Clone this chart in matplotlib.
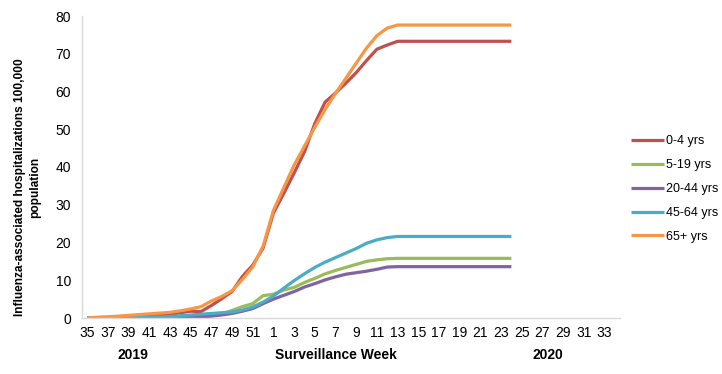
import matplotlib
matplotlib.use("Agg")
import matplotlib.pyplot as plt
import numpy as np

plt.rcParams['font.family'] = ['Liberation Sans', 'DejaVu Sans']

weeks = [str(w) for w in list(range(35, 53)) + list(range(1, 35))]
tick_labels = [w if i % 2 == 0 else '' for i, w in enumerate(weeks)]

# values for weeks 35..52 (2019) and 1..24 (2020)
age_0_4 = [0, 0.1, 0.2, 0.3, 0.4, 0.6, 0.8, 0.9, 1.0, 1.4, 1.8, 1.7, 3.3, 5.1, 7.0, 11.0, 14.0, 18.5,
           27.8, 33.0, 38.4, 44.0, 51.5, 57.2, 59.6, 62.2, 65.0, 68.2, 71.2, 72.3, 73.3,
           73.3, 73.3, 73.3, 73.3, 73.3, 73.3, 73.3, 73.3, 73.3, 73.3, 73.3]
age_5_19 = [0, 0, 0, 0, 0, 0, 0.1, 0.1, 0.1, 0.2, 0.3, 0.4, 0.6, 1.0, 2.0, 3.0, 3.8, 5.9,
            6.3, 7.4, 8.1, 9.4, 10.5, 11.7, 12.6, 13.4, 14.2, 15.0, 15.4, 15.7, 15.8,
            15.8, 15.8, 15.8, 15.8, 15.8, 15.8, 15.8, 15.8, 15.8, 15.8, 15.8]
age_20_44 = [0, 0, 0, 0, 0, 0, 0, 0, 0.1, 0.1, 0.2, 0.3, 0.5, 0.8, 1.2, 1.8, 2.5, 3.8,
             5.0, 6.0, 7.0, 8.2, 9.1, 10.1, 10.9, 11.6, 12.0, 12.4, 12.9, 13.5, 13.6,
             13.6, 13.6, 13.6, 13.6, 13.6, 13.6, 13.6, 13.6, 13.6, 13.6, 13.6]
age_45_64 = [0, 0, 0, 0.1, 0.1, 0.2, 0.2, 0.3, 0.4, 0.6, 0.8, 1.0, 1.2, 1.4, 1.6, 2.1, 2.9, 4.2,
             5.8, 7.9, 9.9, 11.7, 13.4, 14.8, 16.0, 17.2, 18.4, 19.8, 20.7, 21.3, 21.6,
             21.6, 21.6, 21.6, 21.6, 21.6, 21.6, 21.6, 21.6, 21.6, 21.6, 21.6]
age_65 = [0, 0.2, 0.3, 0.5, 0.7, 0.9, 1.1, 1.3, 1.5, 1.9, 2.4, 3.0, 4.5, 5.7, 7.2, 10.2, 13.5, 19.0,
          28.5, 34.5, 40.5, 45.5, 50.5, 55.3, 59.5, 63.5, 67.5, 71.5, 74.8, 76.8, 77.6,
          77.6, 77.6, 77.6, 77.6, 77.6, 77.6, 77.6, 77.6, 77.6, 77.6, 77.6]

series = [
    ("0-4 yrs", age_0_4, "#C0504D"),
    ("5-19 yrs", age_5_19, "#9BBB59"),
    ("20-44 yrs", age_20_44, "#8064A2"),
    ("45-64 yrs", age_45_64, "#4BACC6"),
    ("65+ yrs", age_65, "#F79646"),
]

fig = plt.figure(figsize=(7.22, 3.74), dpi=100)
ax = fig.add_axes([82/722, 56/374, (620-82)/722, (318-16)/374])

for name, vals, col in series:
    ax.plot(np.arange(len(vals)), vals, color=col, lw=2.3, label=name,
            solid_capstyle='butt', solid_joinstyle='round')

ax.set_xlim(-0.5, len(weeks) - 0.5)
ax.set_ylim(0, 80)
ax.set_yticks(range(0, 81, 10))
ax.set_xticks(range(len(weeks)))
ax.set_xticklabels(tick_labels, fontsize=10)
ax.tick_params(axis='both', length=0, labelsize=10, colors='#000000')
ax.tick_params(axis='x', pad=6)
ax.tick_params(axis='y', pad=8)
for s in ['top', 'right']:
    ax.spines[s].set_visible(False)
for s in ['left', 'bottom']:
    ax.spines[s].set_color('#D9D9D9')
    ax.spines[s].set_linewidth(1)

fig.text(28/722, 1 - 187/374, "Influenza-associated hospitalizations 100,000\npopulation",
         rotation=90, ha='center', va='center', fontsize=8.6, fontweight='bold',
         multialignment='center', linespacing=1.35)
fig.text(133/722, 1 - 355/374, "2019", ha='center', va='center', fontsize=10, fontweight='bold')
fig.text(336/722, 1 - 355/374, "Surveillance Week", ha='center', va='center', fontsize=10, fontweight='bold')
fig.text(548/722, 1 - 355/374, "2020", ha='center', va='center', fontsize=10, fontweight='bold')

leg = fig.legend(loc='upper left', bbox_to_anchor=(620/722, 1 - 124/374), frameon=False,
                 fontsize=9, handlelength=2.6, handletextpad=0.15, labelspacing=0.95)

fig.savefig("out.png", dpi=100)
